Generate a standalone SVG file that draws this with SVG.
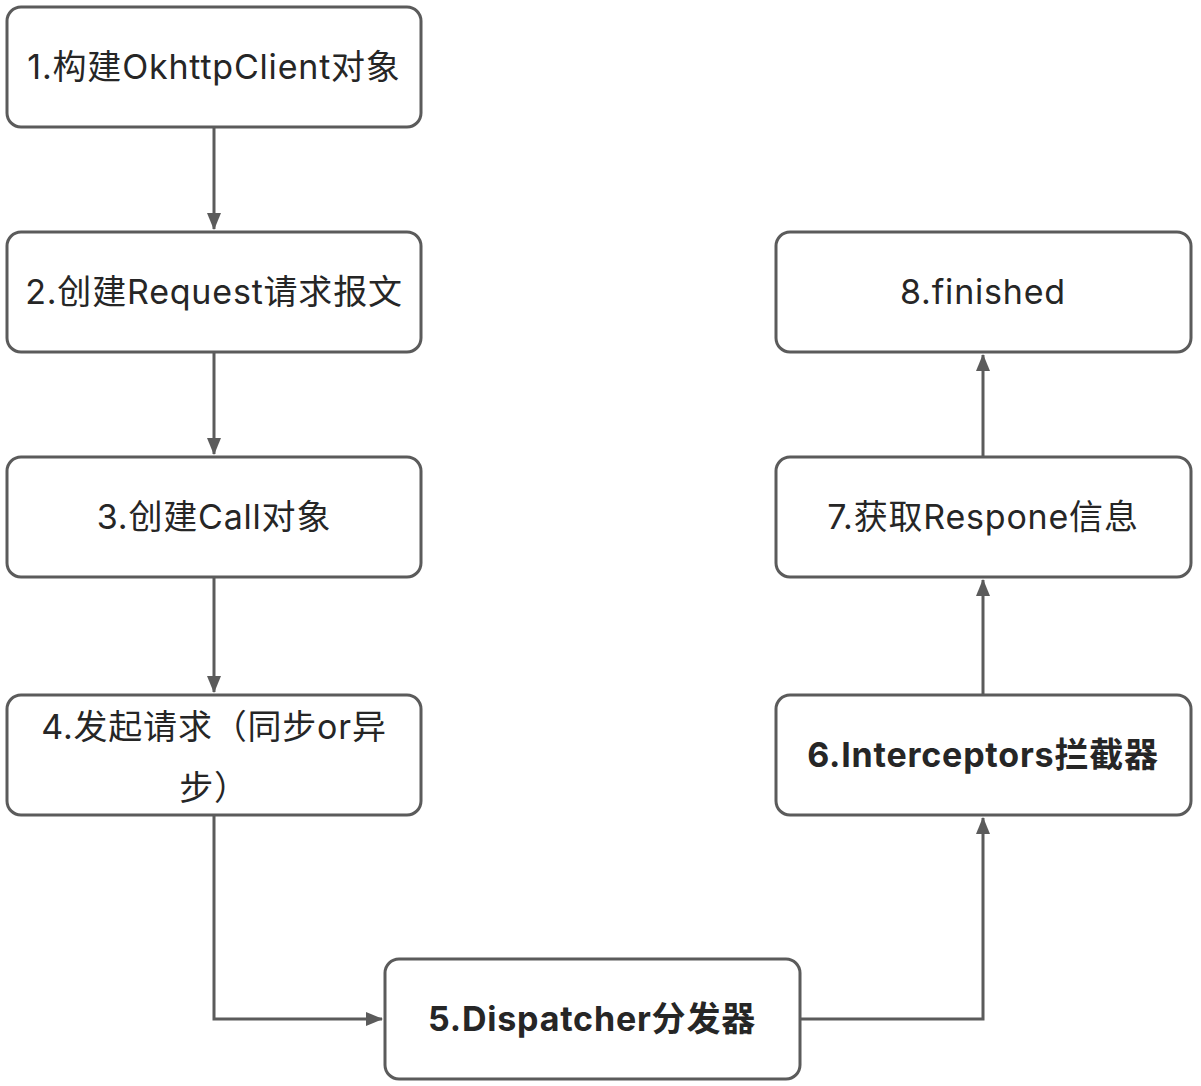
<svg xmlns="http://www.w3.org/2000/svg" width="1201" height="1086" viewBox="0 0 1201 1086">
<defs>
<style>
.box{fill:#ffffff;stroke:#5b5b5b;stroke-width:3}
.lbl{font-family:"Inter","Noto Sans CJK SC",sans-serif;font-size:34px;letter-spacing:0.8px;fill:#262626;text-anchor:middle}
.b{font-weight:bold}
.edge{fill:none;stroke:#5b5b5b;stroke-width:3}
</style>
<marker id="arr" viewBox="0 0 17 14" refX="16" refY="7" markerWidth="17" markerHeight="14" markerUnits="userSpaceOnUse" orient="auto">
<path d="M0,0 L17,7 L0,14 Z" fill="#5b5b5b"/>
</marker>
</defs>
<rect width="1201" height="1086" fill="#ffffff"/>
<g id="connectors">
<path class="edge" d="M214,127 V229" marker-end="url(#arr)"/>
<path class="edge" d="M214,352 V454" marker-end="url(#arr)"/>
<path class="edge" d="M214,577 V692" marker-end="url(#arr)"/>
<path class="edge" d="M214,815 V1019 H382" marker-end="url(#arr)"/>
<path class="edge" d="M800,1019 H983 V818" marker-end="url(#arr)"/>
<path class="edge" d="M983,695 V580" marker-end="url(#arr)"/>
<path class="edge" d="M983,457 V355" marker-end="url(#arr)"/>
</g>
<g id="n1"><rect class="box" x="7" y="7" width="414" height="120" rx="14"/><text class="lbl" x="214" y="79">1.构建OkhttpClient对象</text></g>
<g id="n2"><rect class="box" x="7" y="232" width="414" height="120" rx="14"/><text class="lbl" x="214" y="304">2.创建Request请求报文</text></g>
<g id="n3"><rect class="box" x="7" y="457" width="414" height="120" rx="14"/><text class="lbl" x="214" y="529">3.创建Call对象</text></g>
<g id="n4"><rect class="box" x="7" y="695" width="414" height="120" rx="14"/><text class="lbl" x="214" y="739">4.发起请求（同步or异</text><text class="lbl" x="214" y="800">步）</text></g>
<g id="n5"><rect class="box" x="385" y="959" width="415" height="120" rx="14"/><text class="lbl b" x="592" y="1031">5.Dispatcher分发器</text></g>
<g id="n6"><rect class="box" x="776" y="695" width="415" height="120" rx="14"/><text class="lbl b" x="983" y="767">6.Interceptors拦截器</text></g>
<g id="n7"><rect class="box" x="776" y="457" width="415" height="120" rx="14"/><text class="lbl" x="983" y="529">7.获取Respone信息</text></g>
<g id="n8"><rect class="box" x="776" y="232" width="415" height="120" rx="14"/><text class="lbl" x="983" y="304">8.finished</text></g>
</svg>
